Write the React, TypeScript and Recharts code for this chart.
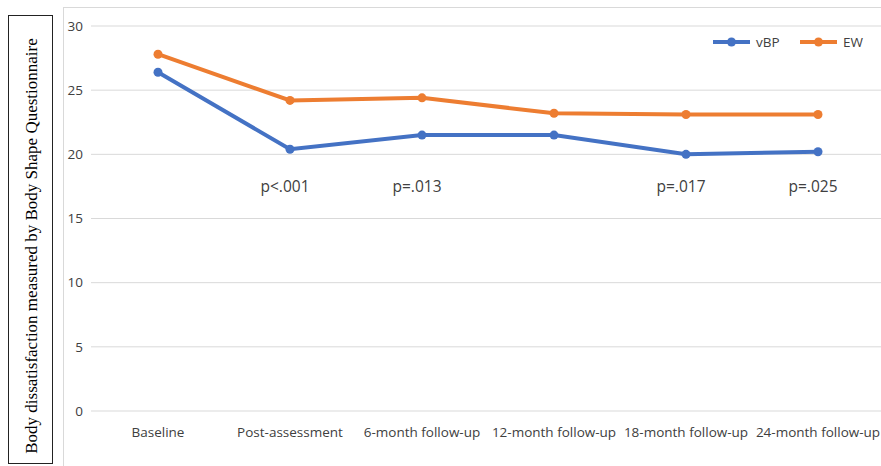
import React from 'react';
import { LineChart, Line, XAxis, YAxis, CartesianGrid, ReferenceDot } from 'recharts';

const categories = ['Baseline', 'Post-assessment', '6-month follow-up', '12-month follow-up', '18-month follow-up', '24-month follow-up'];
const vBP = [26.4, 20.4, 21.5, 21.5, 20.0, 20.2];
const EW = [27.8, 24.2, 24.4, 23.2, 23.1, 23.1];
const pValues = ['', 'p<.001', 'p=.013', '', 'p=.017', 'p=.025'];
const pLabelLevel = 17.5;
const yTicks = [0, 5, 10, 15, 20, 25, 30];

const data = categories.map((c, i) => ({ cat: c, vBP: vBP[i], EW: EW[i] }));

const BLUE = '#4472C4';
const ORANGE = '#ED7D31';
const FONT = '"Open Sans", sans-serif';

const seriesList = [
  { key: 'vBP', name: 'vBP', color: BLUE },
  { key: 'EW', name: 'EW', color: ORANGE },
];

const LegendBox = () => (
  <svg width={170} height={20} style={{ position: 'absolute', left: 713, top: 32, display: 'block' }}>
    {seriesList.map((it, i) => {
      const x0 = i * 87;
      return (
        <g key={it.key}>
          <line x1={x0} x2={x0 + 37} y1={10} y2={10} stroke={it.color} strokeWidth={4} />
          <circle cx={x0 + 18.5} cy={10} r={4.5} fill={it.color} />
          <text x={x0 + 43} y={10} dy="0.35em" fontSize={13.5} fontFamily={FONT} fill="#404040">{it.name}</text>
        </g>
      );
    })}
  </svg>
);

export default function App() {
  return (
    <div style={{ position: 'absolute', left: 0, top: 0, width: 881, height: 466, overflow: 'hidden', background: '#fff' }}>
      <div style={{ position: 'absolute', left: 63, top: 7, width: 840, height: 480, border: '1px solid #d9d9d9', boxSizing: 'border-box' }} />
      <div style={{ position: 'absolute', left: 8, top: 15, width: 45, height: 449, border: '1px solid #222', boxSizing: 'border-box' }}>
        <svg width={43} height={447} style={{ display: 'block' }}>
          <text
            transform="translate(22,230) rotate(-90)"
            textAnchor="middle"
            dy="0.35em"
            fontSize={17}
            fontFamily='"Liberation Serif", "Times New Roman", serif'
            fill="#000"
          >
            Body dissatisfaction measured by Body Shape Questionnaire
          </text>
        </svg>
      </div>
      <div style={{ position: 'absolute', left: 0, top: 0 }}>
        <LineChart width={881} height={466} data={data} margin={{ top: 26, right: 0, bottom: 25, left: 0 }}>
          <CartesianGrid horizontal vertical={false} stroke="#d9d9d9" strokeWidth={1} />
          <XAxis
            dataKey="cat"
            height={30}
            axisLine={false}
            tickLine={false}
            padding={{ left: 67, right: 63 }}
            interval={0}
            tickMargin={10}
            tick={{ fontSize: 13.5, fontFamily: FONT, fill: '#404040' }}
          />
          <YAxis
            width={91}
            domain={[0, 30]}
            ticks={yTicks}
            axisLine={false}
            tickLine={false}
            tick={{ fontSize: 13.5, fontFamily: FONT, fill: '#404040' }}
          />
          {seriesList.map((s) => (
            <Line
              key={s.key}
              type="linear"
              dataKey={s.key}
              name={s.name}
              stroke={s.color}
              strokeWidth={4}
              dot={{ r: 4.5, fill: s.color, stroke: s.color, strokeWidth: 0 }}
              isAnimationActive={false}
            />
          ))}
          {categories.map((c, i) =>
            pValues[i] ? (
              <ReferenceDot
                key={c}
                x={c}
                y={pLabelLevel}
                r={0}
                fill="none"
                stroke="none"
                label={{ value: pValues[i], fontSize: 15.5, fontFamily: FONT, fill: '#404040', dx: -5 }}
              />
            ) : null
          )}
        </LineChart>
      </div>
      <LegendBox />
    </div>
  );
}
